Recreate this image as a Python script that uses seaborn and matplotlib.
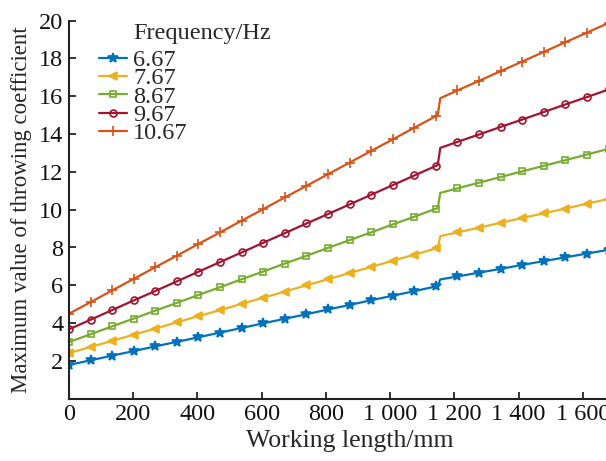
import matplotlib
matplotlib.use('Agg')
from matplotlib import pyplot as plt
from matplotlib.lines import Line2D
import seaborn as sns

sns.set_style('ticks')
plt.rcParams['font.family'] = ['Liberation Serif', 'DejaVu Serif']
plt.rcParams['font.size'] = 17

# working length (mm); two extra points describe the step near 1150 mm
length_mm = [0, 67.2, 134.4, 201.6, 268.8, 336, 403.2, 470.4, 537.6, 604.8,
             672, 739.2, 806.4, 873.6, 940.8, 1008, 1075.2, 1142.4, 1148, 1156,
             1209.6, 1276.8, 1344, 1411.2, 1478.4, 1545.6, 1612.8, 1680]

f_667 = [1.79, 2.03, 2.28, 2.52, 2.77, 3.01, 3.25, 3.50, 3.74, 3.99,
         4.23, 4.47, 4.72, 4.96, 5.21, 5.45, 5.69, 5.94, 5.96, 6.31,
         6.47, 6.67, 6.87, 7.08, 7.28, 7.48, 7.68, 7.88]
f_767 = [2.41, 2.74, 3.06, 3.39, 3.71, 4.04, 4.37, 4.69, 5.02, 5.34,
         5.67, 6.00, 6.32, 6.65, 6.97, 7.30, 7.62, 7.95, 7.98, 8.60,
         8.80, 9.05, 9.31, 9.56, 9.81, 10.06, 10.32, 10.57]
f_867 = [3.00, 3.41, 3.83, 4.24, 4.66, 5.07, 5.49, 5.90, 6.32, 6.73,
         7.15, 7.56, 7.98, 8.39, 8.80, 9.22, 9.63, 10.05, 10.08, 10.89,
         11.13, 11.43, 11.73, 12.03, 12.32, 12.62, 12.92, 13.22]
f_967 = [3.67, 4.18, 4.69, 5.20, 5.70, 6.21, 6.72, 7.23, 7.74, 8.25,
         8.76, 9.27, 9.77, 10.28, 10.79, 11.30, 11.81, 12.32, 12.36, 13.27,
         13.59, 13.98, 14.38, 14.77, 15.17, 15.57, 15.96, 16.36]
f_1067 = [4.50, 5.11, 5.73, 6.34, 6.96, 7.57, 8.19, 8.80, 9.42, 10.03,
          10.65, 11.26, 11.88, 12.49, 13.11, 13.72, 14.34, 14.95, 15.00, 15.90,
          16.31, 16.82, 17.33, 17.84, 18.35, 18.86, 19.37, 19.88]

labels = ['6.67', '7.67', '8.67', '9.67', '10.67']
series = [f_667, f_767, f_867, f_967, f_1067]
colors = ['#0072BD', '#EDB120', '#77AC30', '#A2142F', '#D95319']
markers = ['*', '<', 's', 'o', '+']
msizes = [7, 5.5, 4.8, 5, 7]
filled = [True, True, False, False, True]

x_ticks = [0, 200, 400, 600, 800, 1000, 1200, 1400, 1600]
x_ticklabels = ['0', '200', '400', '600', '800', '1 000', '1 200', '1 400', '1 600']
y_ticks = [2, 4, 6, 8, 10, 12, 14, 16, 18, 20]

# markers on every grid point but not on the two step points
mark_idx = [i for i in range(len(length_mm)) if i not in (18, 19)]

fig = plt.figure(figsize=(6.06, 4.61), dpi=100)
ax = fig.add_axes([69/606, 1-398.7/461, 1-69/606, (398.7-20.7)/461])

handles = []
for vals, lab, c, m, ms, fl in zip(series, labels, colors, markers, msizes, filled):
    fc = c if fl else 'none'
    sns.lineplot(x=length_mm, y=vals, ax=ax, color=c, lw=1.6, marker=m,
                 markersize=ms, markerfacecolor=fc, markeredgecolor=c,
                 markeredgewidth=1.2, markevery=mark_idx, legend=False)
    handles.append(Line2D([], [], color=c, lw=1.6, marker=m, markersize=ms,
                          markerfacecolor=fc, markeredgecolor=c, markeredgewidth=1.2))

ax.set_xlim(0, 1672)
ax.set_ylim(0, 20)
ax.set_xticks(x_ticks)
ax.set_xticklabels(x_ticklabels)
ax.set_yticks(y_ticks)
ax.tick_params(direction='in', length=5, width=1.2, pad=4, labelsize=17.5, colors='#111111')
sns.despine(ax=ax)
for s in ['left', 'bottom']:
    ax.spines[s].set_linewidth(1.5)
    ax.spines[s].set_color('#222222')

ax.set_xlabel('Working length/mm', fontsize=18.5)
ax.xaxis.set_label_coords((350-69)/537, -(430-398.7)/378)
ax.set_ylabel('Maximum value of throwing coefficient', fontsize=16.5, labelpad=5)

ax.legend(handles, labels, loc='upper left', bbox_to_anchor=(99/606, 1-49/461),
          bbox_transform=fig.transFigure, frameon=False, borderpad=0,
          borderaxespad=0, handlelength=1.15, handletextpad=0.25,
          labelspacing=-0.15, fontsize=17.5)
fig.text(133/606, 1-33/461, 'Frequency/Hz', fontsize=17.5, ha='left', va='center')

fig.savefig('out.png', dpi=100)
